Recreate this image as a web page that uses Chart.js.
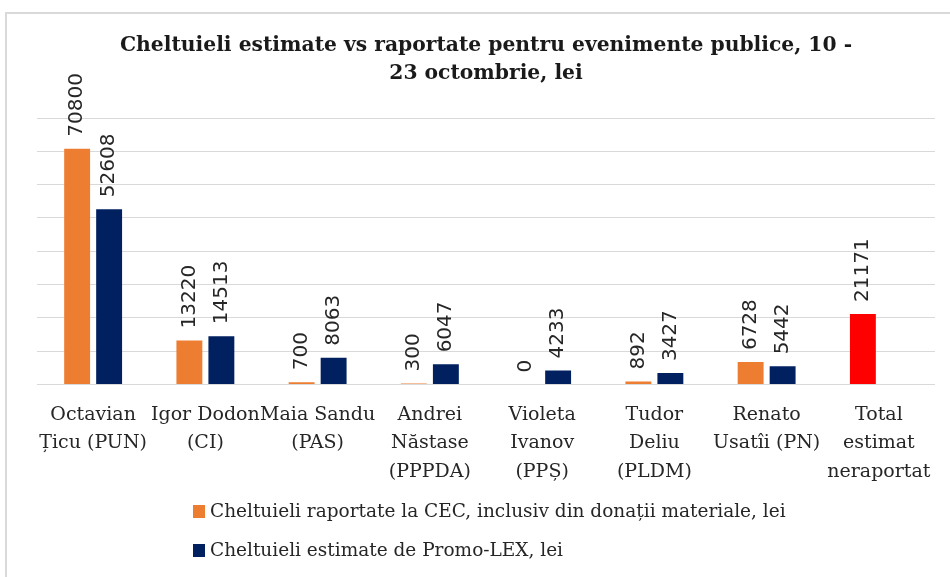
<!DOCTYPE html>
<html>
<head>
<meta charset="utf-8">
<script src="https://cdn.jsdelivr.net/npm/chart.js@4/dist/chart.umd.min.js"></script>
<style>
  html, body { margin: 0; padding: 0; background: #fff; }
  #wrap { width: 950px; height: 577px; }
</style>
</head>
<body>
<div id="wrap"><canvas id="costChart" width="950" height="577"></canvas></div>
<script>
const categories = [
    ["Octavian", "Țicu (PUN)"],
    ["Igor Dodon", "(CI)"],
    ["Maia Sandu", "(PAS)"],
    ["Andrei", "Năstase", "(PPPDA)"],
    ["Violeta", "Ivanov", "(PPȘ)"],
    ["Tudor", "Deliu", "(PLDM)"],
    ["Renato", "Usatîi (PN)"],
    ["Total", "estimat", "neraportat"]
];
const reportedCEC = [70800, 13220, 700, 300, 0, 892, 6728, 21171];
const estimatedPromoLex = [52608, 14513, 8063, 6047, 4233, 3427, 5442, null];
const seriesNames = [
    "Cheltuieli raportate la CEC, inclusiv din donații materiale, lei",
    "Cheltuieli estimate de Promo-LEX, lei"
];
const titleLines = [
    "Cheltuieli estimate vs raportate pentru evenimente publice, 10 -",
    "23 octombrie, lei"
];

const ORANGE = "#ED7D31";
const NAVY = "#002060";
const RED = "#FF0000";
const SERIF = "'DejaVu Serif', 'Liberation Serif', serif";

// last bar of the first series is the unreported total, painted red
const reportedColors = reportedCEC.map((v, i) => i === reportedCEC.length - 1 ? RED : ORANGE);

const framePlugin = {
    id: "frame",
    beforeDraw(chart) {
        const ctx = chart.ctx;
        ctx.save();
        ctx.fillStyle = "#fff";
        ctx.fillRect(0, 0, chart.width, chart.height);
        ctx.strokeStyle = "#d9d9d9";
        ctx.lineWidth = 2;
        ctx.strokeRect(6, 13, chart.width + 20, chart.height + 20);
        ctx.restore();
    }
};

const valueLabels = {
    id: "valueLabels",
    afterDatasetsDraw(chart) {
        const ctx = chart.ctx;
        ctx.save();
        ctx.font = "20px 'DejaVu Sans', sans-serif";
        ctx.fillStyle = "#262626";
        ctx.textAlign = "left";
        ctx.textBaseline = "middle";
        chart.data.datasets.forEach((ds, di) => {
            chart.getDatasetMeta(di).data.forEach((bar, i) => {
                const v = ds.data[i];
                if (v === null || v === undefined) return;
                ctx.save();
                ctx.translate(bar.x, bar.y - 12);
                ctx.rotate(-Math.PI / 2);
                ctx.fillText(String(v), 0, 0);
                ctx.restore();
            });
        });
        ctx.restore();
    }
};

const legendRows = {
    id: "legendRows",
    afterDraw(chart) {
        const ctx = chart.ctx;
        const colors = [ORANGE, NAVY];
        ctx.save();
        ctx.font = "18.5px " + SERIF;
        ctx.textBaseline = "middle";
        ctx.textAlign = "left";
        seriesNames.forEach((name, i) => {
            const y = 512 + i * 39;
            ctx.fillStyle = colors[i];
            ctx.fillRect(193, y - 7, 12, 13);
            ctx.fillStyle = "#262626";
            ctx.fillText(name, 210, y);
        });
        ctx.restore();
    }
};

new Chart(document.getElementById("costChart"), {
    type: "bar",
    data: {
        labels: categories,
        datasets: [
            {
                label: seriesNames[0],
                data: reportedCEC,
                backgroundColor: reportedColors,
                categoryPercentage: 0.57,
                barPercentage: 0.81
            },
            {
                label: seriesNames[1],
                data: estimatedPromoLex,
                backgroundColor: NAVY,
                categoryPercentage: 0.57,
                barPercentage: 0.81
            }
        ]
    },
    options: {
        responsive: false,
        animation: false,
        layout: { padding: { left: 37, right: 15, top: 20, bottom: 83 } },
        plugins: {
            legend: { display: false },
            tooltip: { enabled: false },
            title: {
                display: true,
                text: titleLines,
                color: "#1a1a1a",
                font: { family: SERIF, size: 20.3, weight: "bold", lineHeight: 1.38 },
                padding: { top: 12, bottom: 30 }
            }
        },
        scales: {
            x: {
                grid: { display: false },
                border: { display: false },
                ticks: {
                    color: "#262626",
                    font: { family: SERIF, size: 19, lineHeight: 1.5 },
                    maxRotation: 0,
                    minRotation: 0,
                    autoSkip: false,
                    padding: 8
                }
            },
            y: {
                min: 0,
                max: 80000,
                ticks: { display: false, stepSize: 10000 },
                grid: { color: "#d9d9d9", lineWidth: 1, drawTicks: false },
                border: { display: false }
            }
        }
    },
    plugins: [framePlugin, valueLabels, legendRows]
});
</script>
</body>
</html>
